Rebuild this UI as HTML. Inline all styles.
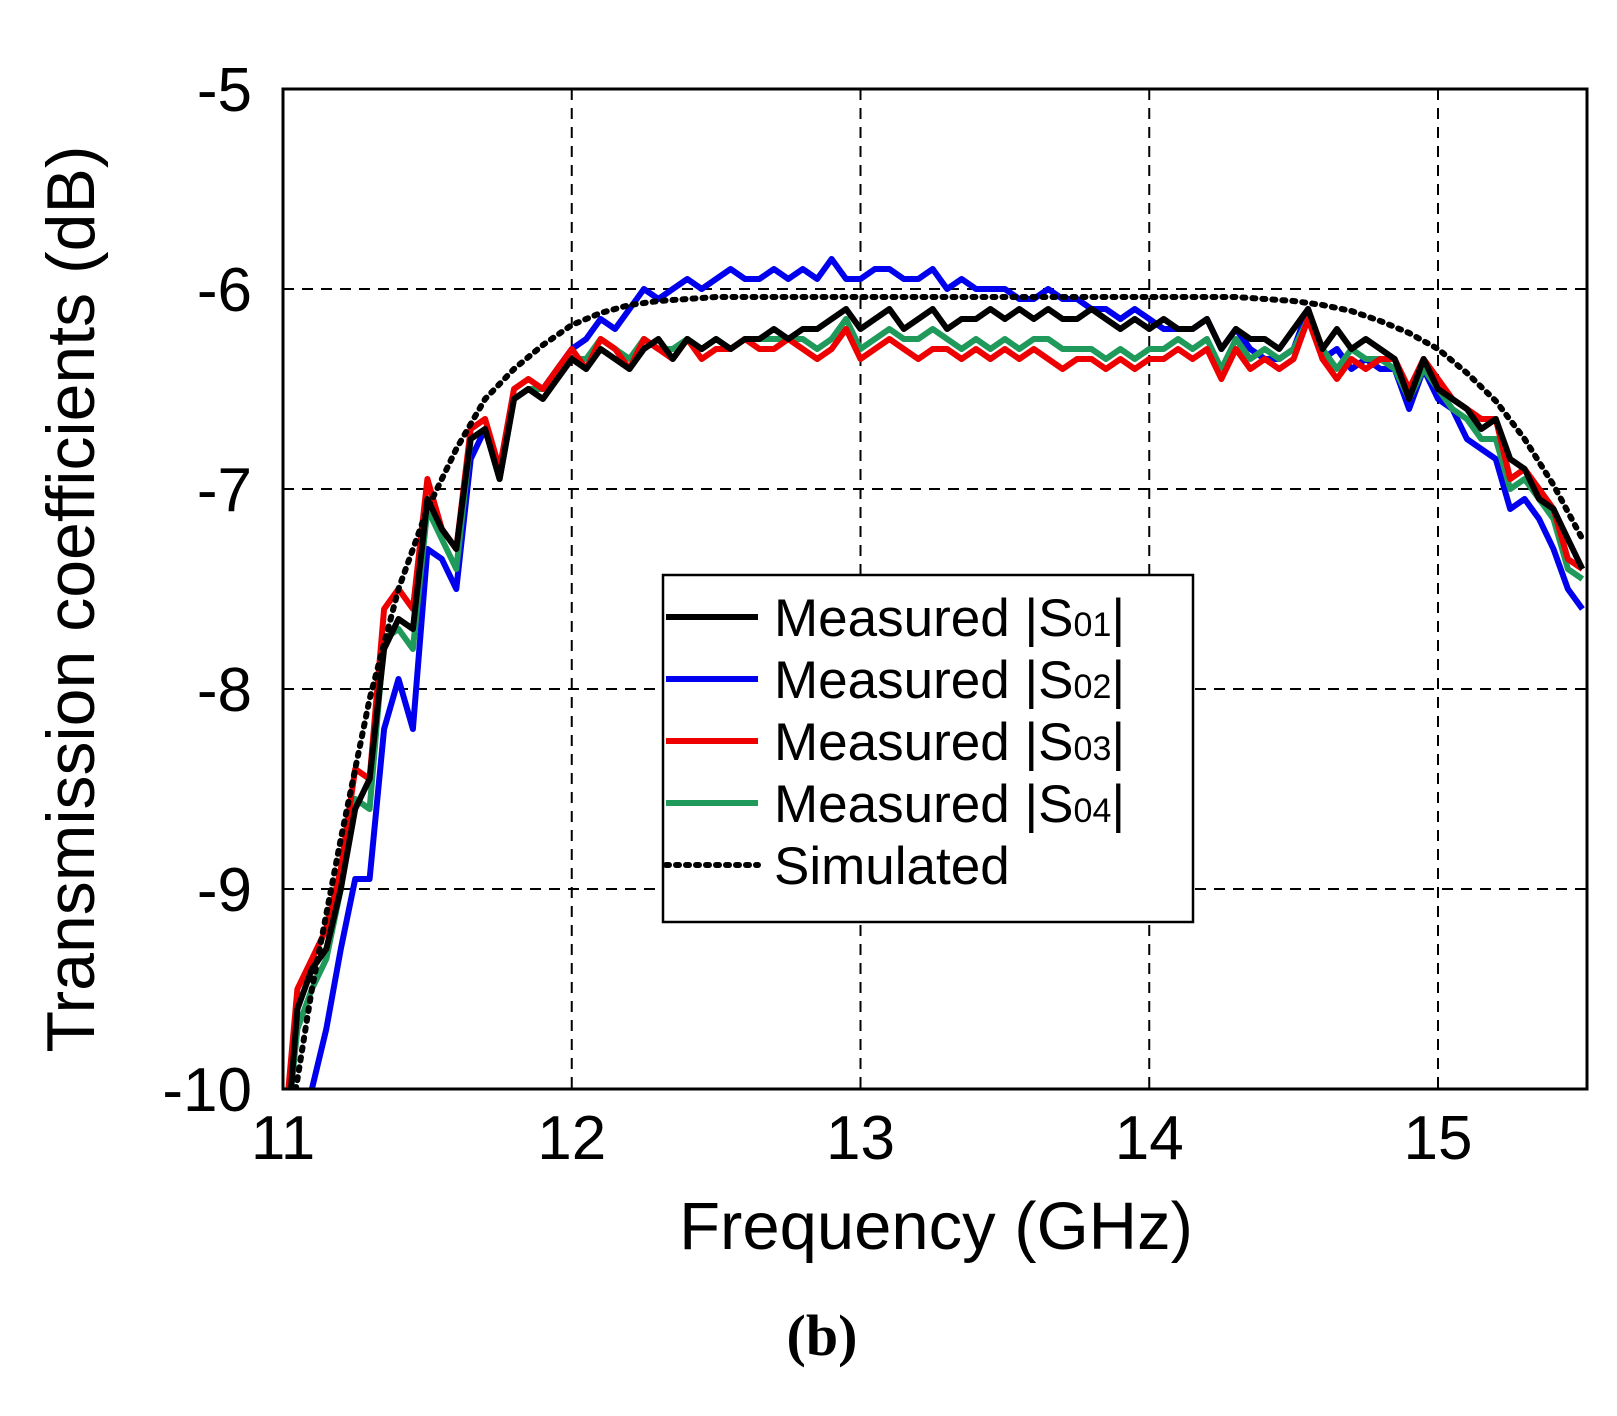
<!DOCTYPE html>
<html><head><meta charset="utf-8"><style>
html,body{margin:0;padding:0;background:#fff;}
svg text{font-family:"Liberation Sans",sans-serif;fill:#000;}
</style></head><body>
<svg id="chart" width="1617" height="1411" viewBox="0 0 1617 1411" xmlns="http://www.w3.org/2000/svg">
<defs><clipPath id="plotclip"><rect x="283" y="89" width="1304" height="1000"/></clipPath></defs>
<rect x="0" y="0" width="1617" height="1411" fill="#fff"/>
<g id="grid"></g>
<g id="series" clip-path="url(#plotclip)"></g>
<rect x="283" y="89" width="1304" height="1000" fill="none" stroke="#000" stroke-width="3"/>
<g id="ticks"></g>
<text x="936" y="1249" font-size="67" text-anchor="middle">Frequency (GHz)</text>
<text transform="translate(94,599) rotate(-90)" font-size="68" text-anchor="middle">Transmission coefficients (dB)</text>
<text x="822" y="1355" font-size="58" font-weight="bold" text-anchor="middle" style="font-family:'Liberation Serif',serif">(b)</text>
<g>
<rect x="663" y="575" width="530" height="347" fill="#fff" stroke="#000" stroke-width="2.5"/>
<g id="legend-items"></g>
</g>
</svg>
<script>
const xTicks=[11,12,13,14,15];
const yTicks=[-5,-6,-7,-8,-9,-10];
const seriesNames=["Measured |S01|","Measured |S02|","Measured |S03|","Measured |S04|","Simulated"];
const seriesSubs=["01","02","03","04",""];
const measFreqStart=11.0, measFreqStep=0.05;
const s01=[-10.5,-9.6,-9.4,-9.3,-9.0,-8.6,-8.45,-7.8,-7.65,-7.7,-7.05,-7.2,-7.3,-6.75,-6.7,-6.95,-6.55,-6.5,-6.55,-6.45,-6.35,-6.4,-6.3,-6.35,-6.4,-6.3,-6.25,-6.35,-6.25,-6.3,-6.25,-6.3,-6.25,-6.25,-6.2,-6.25,-6.2,-6.2,-6.15,-6.1,-6.2,-6.15,-6.1,-6.2,-6.15,-6.1,-6.2,-6.15,-6.15,-6.1,-6.15,-6.1,-6.15,-6.1,-6.15,-6.15,-6.1,-6.15,-6.2,-6.15,-6.2,-6.15,-6.2,-6.2,-6.15,-6.3,-6.2,-6.25,-6.25,-6.3,-6.2,-6.1,-6.3,-6.2,-6.3,-6.25,-6.3,-6.35,-6.55,-6.35,-6.5,-6.55,-6.6,-6.7,-6.65,-6.85,-6.9,-7.05,-7.1,-7.25,-7.4];
const s02=[-11,-10.4,-10.0,-9.7,-9.3,-8.95,-8.95,-8.2,-7.95,-8.2,-7.3,-7.35,-7.5,-6.85,-6.7,-6.95,-6.55,-6.5,-6.5,-6.4,-6.3,-6.25,-6.15,-6.2,-6.1,-6.0,-6.05,-6.0,-5.95,-6.0,-5.95,-5.9,-5.95,-5.95,-5.9,-5.95,-5.9,-5.95,-5.85,-5.95,-5.95,-5.9,-5.9,-5.95,-5.95,-5.9,-6.0,-5.95,-6.0,-6.0,-6.0,-6.05,-6.05,-6.0,-6.05,-6.05,-6.1,-6.1,-6.15,-6.1,-6.15,-6.2,-6.2,-6.2,-6.15,-6.3,-6.2,-6.3,-6.35,-6.35,-6.3,-6.1,-6.35,-6.3,-6.4,-6.35,-6.4,-6.4,-6.6,-6.4,-6.55,-6.6,-6.75,-6.8,-6.85,-7.1,-7.05,-7.15,-7.3,-7.5,-7.6];
const s03=[-10.3,-9.5,-9.35,-9.2,-8.9,-8.4,-8.45,-7.6,-7.5,-7.6,-6.95,-7.2,-7.3,-6.7,-6.65,-6.9,-6.5,-6.45,-6.5,-6.4,-6.3,-6.4,-6.25,-6.3,-6.4,-6.25,-6.3,-6.35,-6.25,-6.35,-6.3,-6.3,-6.25,-6.3,-6.3,-6.25,-6.3,-6.35,-6.3,-6.2,-6.35,-6.3,-6.25,-6.3,-6.35,-6.3,-6.3,-6.35,-6.3,-6.35,-6.3,-6.35,-6.3,-6.35,-6.4,-6.35,-6.35,-6.4,-6.35,-6.4,-6.35,-6.35,-6.3,-6.35,-6.3,-6.45,-6.3,-6.4,-6.35,-6.4,-6.35,-6.15,-6.35,-6.45,-6.35,-6.4,-6.35,-6.35,-6.5,-6.35,-6.45,-6.55,-6.6,-6.65,-6.65,-6.95,-6.9,-7.0,-7.1,-7.35,-7.4];
const s04=[-10.4,-9.7,-9.5,-9.35,-9.0,-8.55,-8.6,-7.75,-7.7,-7.8,-7.1,-7.25,-7.4,-6.75,-6.7,-6.95,-6.55,-6.5,-6.5,-6.4,-6.35,-6.35,-6.25,-6.3,-6.35,-6.25,-6.3,-6.3,-6.25,-6.3,-6.25,-6.3,-6.25,-6.25,-6.25,-6.25,-6.25,-6.3,-6.25,-6.15,-6.3,-6.25,-6.2,-6.25,-6.25,-6.2,-6.25,-6.3,-6.25,-6.3,-6.25,-6.3,-6.25,-6.25,-6.3,-6.3,-6.3,-6.35,-6.3,-6.35,-6.3,-6.3,-6.25,-6.3,-6.25,-6.4,-6.25,-6.35,-6.3,-6.35,-6.3,-6.15,-6.3,-6.4,-6.3,-6.35,-6.35,-6.4,-6.55,-6.4,-6.5,-6.6,-6.65,-6.75,-6.75,-7.0,-6.95,-7.05,-7.15,-7.4,-7.45];
const simFreqStart=11.0, simFreqStep=0.1;
const sim=[-10.4,-9.5,-8.75,-8.05,-7.5,-7.1,-6.8,-6.55,-6.4,-6.28,-6.18,-6.12,-6.08,-6.06,-6.05,-6.04,-6.04,-6.04,-6.04,-6.04,-6.04,-6.04,-6.04,-6.04,-6.04,-6.04,-6.04,-6.04,-6.04,-6.04,-6.04,-6.04,-6.04,-6.04,-6.05,-6.06,-6.08,-6.11,-6.16,-6.22,-6.3,-6.42,-6.56,-6.75,-6.98,-7.25];

const X0=283,X1=1587,Y0=89,Y1=1089,xmin=11,xmax=15.516,ymin=-10,ymax=-5;
const xs=v=>X0+(v-xmin)/(xmax-xmin)*(X1-X0);
const ys=v=>Y1-(v-ymin)/(ymax-ymin)*(Y1-Y0);
const NS="http://www.w3.org/2000/svg";
function mk(tag,attrs,parent){const e=document.createElementNS(NS,tag);for(const k in attrs)e.setAttribute(k,attrs[k]);parent.appendChild(e);return e;}
const grid=document.getElementById('grid'),ticks=document.getElementById('ticks'),ser=document.getElementById('series'),leg=document.getElementById('legend-items');
xTicks.forEach(t=>{
  if(t>xmin){const l=mk('line',{x1:xs(t),x2:xs(t),y1:Y0,y2:Y1,stroke:'#000','stroke-width':2,'stroke-dasharray':'11 8'},grid);
  
  }
  const tx=mk('text',{x:xs(t),y:1159,'font-size':62,'text-anchor':'middle'},ticks);tx.textContent=t;
  
  
});
yTicks.forEach(t=>{
  if(t>ymin&&t<ymax){const l=mk('line',{x1:X0,x2:X1,y1:ys(t),y2:ys(t),stroke:'#000','stroke-width':2,'stroke-dasharray':'11 8'},grid);
  
  }
  const tx=mk('text',{x:252,y:ys(t)+22,'font-size':62,'text-anchor':'end'},ticks);tx.textContent=t;
  
  
});
function path(vals,start,step){return vals.map((v,i)=>(i?'L':'M')+xs(start+i*step).toFixed(1)+','+ys(v).toFixed(1)).join(' ');}
const styles=[
 {c:'#000',vals:s01,name:'series-s01'},
 {c:'#0000ee',vals:s02,name:'series-s02'},
 {c:'#ee0000',vals:s03,name:'series-s03'},
 {c:'#1f9a5a',vals:s04,name:'series-s04'}];
[1,3,2,0].forEach(i=>{const s=styles[i];
  const p=mk('path',{d:path(s.vals,measFreqStart,measFreqStep),fill:'none',stroke:s.c,'stroke-width':6,'stroke-linejoin':'round'},ser);
  
  
});
const sp=mk('path',{d:path(sim,simFreqStart,simFreqStep),fill:'none',stroke:'#000','stroke-width':6,'stroke-dasharray':'3 7','stroke-linecap':'round'},ser);


const legColors=['#000','#0000ee','#ee0000','#1f9a5a','#000'];
seriesNames.forEach((n,i)=>{
  const y=617+i*62;
  const a={x1:666,x2:758,y1:y,y2:y,stroke:legColors[i],'stroke-width':6};
  if(i===4){a['stroke-dasharray']='3 7';a['stroke-linecap']='round';}
  const l=mk('line',a,leg);
  
  
  const t=mk('text',{x:774,y:y+19,'font-size':53},leg);
  if(seriesSubs[i]){t.innerHTML='Measured |S<tspan font-size="34">'+seriesSubs[i]+'</tspan>|';}
  else t.textContent=n;
  
  
});
</script>
</body></html>
